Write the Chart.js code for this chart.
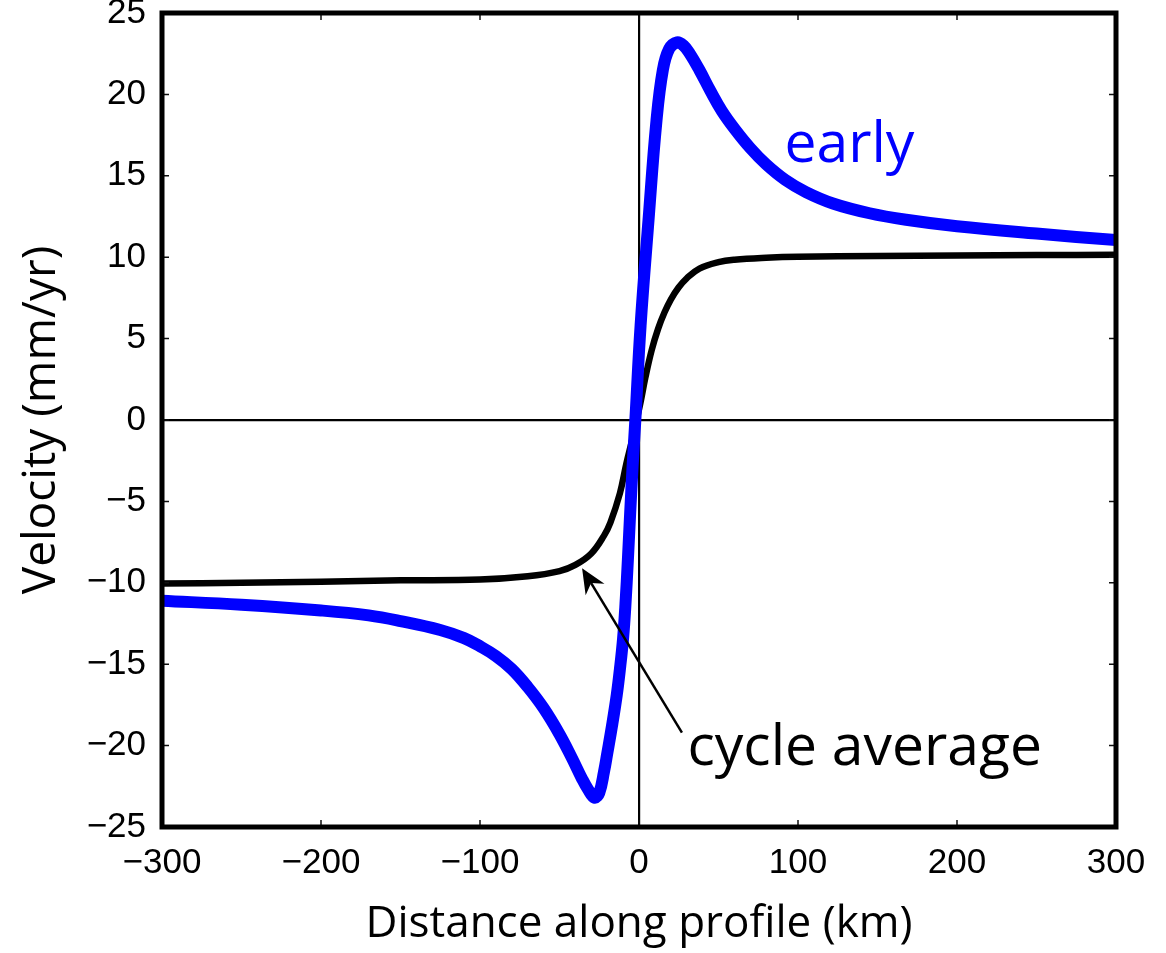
<!DOCTYPE html>
<html>
<head>
<meta charset="utf-8">
<script src="https://cdn.jsdelivr.net/npm/chart.js@4.4.0/dist/chart.umd.min.js"></script>
<style>
  html, body { margin: 0; padding: 0; background: #fff; }
  #wrap { width: 1166px; height: 953px; }
</style>
</head>
<body>
<div id="wrap"><canvas id="velChart"></canvas></div>
<script>
// distance along profile (km) and velocity (mm/yr)
const earlyDist = [-300, -250, -200, -170, -150, -125, -110, -100, -90, -80, -70, -60, -50, -42, -36, -32, -28, -25, -22, -20, -17, -14, -12, -10, -8.5, -7, -5.5, -4, -2.3, 1, 6, 11, 15, 19, 24, 28, 32, 38, 45, 52, 60, 70, 80, 92, 105, 122, 145, 168, 200, 250, 300];
const earlyVel = [-11.1, -11.35, -11.7, -12.0, -12.35, -12.9, -13.4, -13.9, -14.5, -15.3, -16.4, -17.7, -19.3, -20.8, -22.0, -22.7, -23.2, -22.9, -21.6, -20.5, -18.8, -16.9, -15.3, -13.4, -11.3, -8.6, -5.6, -2.8, 0, 5.8, 12.3, 18.4, 21.5, 22.8, 23.2, 23.0, 22.5, 21.5, 20.2, 19.0, 17.9, 16.7, 15.7, 14.75, 14.0, 13.3, 12.7, 12.3, 11.9, 11.45, 11.05];

const avgDist = [-300, -250, -200, -150, -100, -70, -50, -40, -30, -22, -18, -12, -8, -4, -1.5, 1, 4, 8, 12, 16, 20, 25, 30, 38, 50, 60, 80, 100, 150, 200, 250, 300];
const avgVel = [-10.05, -10.0, -9.93, -9.85, -9.8, -9.6, -9.28, -8.9, -8.2, -7.1, -6.3, -4.5, -2.7, -1.1, 0, 1.1, 2.6, 4.3, 5.6, 6.6, 7.4, 8.15, 8.7, 9.3, 9.7, 9.85, 9.97, 10.03, 10.07, 10.1, 10.13, 10.15];

const xTicks = [-300, -200, -100, 0, 100, 200, 300];
const yTicks = [-25, -20, -15, -10, -5, 0, 5, 10, 15, 20, 25];

const fmt = v => v < 0 ? '\u2212' + Math.abs(v) : String(v);

// inward ticks, box frame, arrow and curve labels
const decorations = {
  id: 'decorations',
  afterDraw(chart) {
    const {ctx, chartArea: a, scales: {x, y}} = chart;
    ctx.save();
    ctx.strokeStyle = '#111';
    ctx.lineWidth = 1.5;
    ctx.beginPath();
    xTicks.forEach(v => {
      const px = x.getPixelForValue(v);
      ctx.moveTo(px, a.bottom); ctx.lineTo(px, a.bottom - 7);
      ctx.moveTo(px, a.top); ctx.lineTo(px, a.top + 7);
    });
    yTicks.forEach(v => {
      const py = y.getPixelForValue(v);
      ctx.moveTo(a.left, py); ctx.lineTo(a.left + 7, py);
      ctx.moveTo(a.right, py); ctx.lineTo(a.right - 7, py);
    });
    ctx.stroke();

    ctx.strokeStyle = '#000';
    ctx.lineWidth = 5;
    ctx.strokeRect(a.left, a.top, a.right - a.left, a.bottom - a.top);

    // arrow pointing at the cycle average curve
    const x0 = x.getPixelForValue(27), y0 = y.getPixelForValue(-19.2);
    const x1 = x.getPixelForValue(-35.8), y1 = y.getPixelForValue(-9.1);
    const ang = Math.atan2(y1 - y0, x1 - x0);
    const hl = 25, hw = 11;
    const bx = x1 - hl * Math.cos(ang), by = y1 - hl * Math.sin(ang);
    const nx = x1 - 0.7 * hl * Math.cos(ang), ny = y1 - 0.7 * hl * Math.sin(ang);
    ctx.lineWidth = 2.5;
    ctx.beginPath();
    ctx.moveTo(x0, y0); ctx.lineTo(nx, ny);
    ctx.stroke();
    ctx.fillStyle = '#000';
    ctx.beginPath();
    ctx.moveTo(x1, y1);
    ctx.lineTo(bx + hw * Math.sin(ang), by - hw * Math.cos(ang));
    ctx.lineTo(nx, ny);
    ctx.lineTo(bx - hw * Math.sin(ang), by + hw * Math.cos(ang));
    ctx.closePath();
    ctx.fill();

    ctx.textAlign = 'left';
    ctx.textBaseline = 'alphabetic';
    ctx.font = '57px "Open Sans"';
    ctx.fillStyle = '#0000ff';
    ctx.fillText('early', x.getPixelForValue(91.5), y.getPixelForValue(15.85));
    ctx.fillStyle = '#000';
    ctx.fillText('cycle average', x.getPixelForValue(30.5), y.getPixelForValue(-21.2));
    ctx.restore();
  }
};

new Chart(document.getElementById('velChart'), {
  type: 'scatter',
  data: {
    datasets: [
      {
        label: 'early',
        data: earlyDist.map((d, i) => ({x: d, y: earlyVel[i]})),
        showLine: true,
        borderColor: '#0000ff',
        borderWidth: 12,
        pointRadius: 0,
        tension: 0.4,
        borderCapStyle: 'butt',
        borderJoinStyle: 'round'
      },
      {
        label: 'cycle average',
        data: avgDist.map((d, i) => ({x: d, y: avgVel[i]})),
        showLine: true,
        borderColor: '#000',
        borderWidth: 6.5,
        pointRadius: 0,
        tension: 0.4,
        borderJoinStyle: 'round'
      }
    ]
  },
  options: {
    responsive: true,
    maintainAspectRatio: false,
    animation: false,
    devicePixelRatio: 1,
    layout: {
      autoPadding: false,
      padding: {left: 0, right: 50, top: 13, bottom: 0}
    },
    plugins: {
      legend: {display: false},
      tooltip: {enabled: false}
    },
    scales: {
      x: {
        type: 'linear',
        min: -300,
        max: 300,
        afterBuildTicks: s => { s.ticks = xTicks.map(v => ({value: v})); },
        afterFit: s => { s.height = 126; s.paddingLeft = 0; s.paddingRight = 0; },
        grid: {
          drawTicks: false,
          lineWidth: 2.2,
          color: c => c.tick && c.tick.value === 0 ? '#000' : 'rgba(0,0,0,0)'
        },
        border: {display: false},
        ticks: {
          color: '#000',
          padding: 15,
          maxRotation: 0,
          font: {family: '"Liberation Sans", Arial, sans-serif', size: 35},
          callback: fmt
        },
        title: {
          display: true,
          text: 'Distance along profile (km)',
          color: '#000',
          padding: {top: 0, bottom: 2},
          font: {family: '"Open Sans"', size: 44, lineHeight: 1.2}
        }
      },
      y: {
        type: 'linear',
        min: -25,
        max: 25,
        afterBuildTicks: s => { s.ticks = yTicks.map(v => ({value: v})); },
        afterFit: s => { s.width = 162; s.paddingTop = 0; s.paddingBottom = 0; },
        grid: {
          drawTicks: false,
          lineWidth: 2.2,
          color: c => c.tick && c.tick.value === 0 ? '#000' : 'rgba(0,0,0,0)'
        },
        border: {display: false},
        ticks: {
          color: '#000',
          padding: 16,
          font: {family: '"Liberation Sans", Arial, sans-serif', size: 35},
          callback: fmt
        },
        title: {
          display: true,
          text: 'Velocity (mm/yr)',
          color: '#000',
          padding: {top: 14, bottom: 0},
          font: {family: '"Open Sans"', size: 46, lineHeight: 1.2}
        }
      }
    }
  },
  plugins: [decorations]
});
</script>
</body>
</html>
